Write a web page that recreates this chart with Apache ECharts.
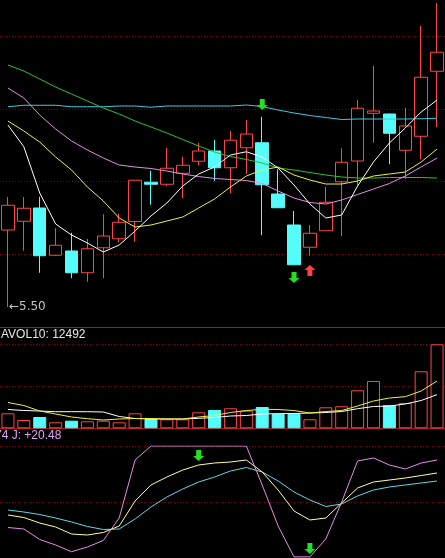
<!DOCTYPE html>
<html>
<head>
<meta charset="utf-8">
<title>K线图</title>
<script src="https://cdn.jsdelivr.net/npm/echarts/dist/echarts.min.js"></script>
<style>
  html, body { margin: 0; padding: 0; background: #000; overflow: hidden; }
  #mychart { width: 445px; height: 558px; }
</style>
</head>
<body>
<div id="mychart"></div>
<script>
  // 日期（图上未标注，仅作类目）
  const days = ['01', '02', '03', '04', '05', '06', '07', '08', '09', '10', '11', '12', '13', '14',
    '15', '16', '17', '18', '19', '20', '21', '22', '23', '24', '25', '26', '27', '28']

  // K线数据
  const openData = [5.808, 5.843, 5.896, 5.707, 5.724, 5.637, 5.737, 5.773, 5.842, 5.999, 5.991, 6.035, 6.083, 6.124,
    6.057, 6.137, 6.157, 5.952, 5.828, 5.739, 5.805, 6.001, 6.084, 6.275, 6.272, 6.127, 6.183, 6.443]
  const closeData = [5.907, 5.895, 5.705, 5.747, 5.637, 5.733, 5.784, 5.839, 6.007, 5.991, 6.055, 6.067, 6.124, 6.057,
    6.167, 6.192, 5.989, 5.897, 5.669, 5.795, 5.919, 6.079, 6.295, 6.284, 6.195, 6.224, 6.419, 6.519]
  const lowData = [5.50, 5.725, 5.637, 5.704, 5.615, 5.601, 5.615, 5.759, 5.761, 5.909, 5.984, 5.935, 6.067, 6.004,
    5.955, 6.032, 5.787, 5.897, 5.669, 5.705, 5.805, 5.784, 5.988, 6.157, 6.071, 6.012, 6.091, 6.219]
  const highData = [5.94, 5.94, 5.941, 5.815, 5.797, 5.773, 5.871, 5.874, 6.008, 6.045, 6.137, 6.101, 6.157, 6.168,
    6.204, 6.248, 6.261, 6.051, 5.884, 5.828, 5.98, 6.135, 6.328, 6.464, 6.274, 6.297, 6.624, 6.715]

  // 均线
  const ma5 = [6.228, 6.141, 5.956, 5.832, 5.788, 5.756, 5.72, 5.748, 5.804, 5.864, 5.916, 5.984, 6.032, 6.06,
    6.108, 6.121, 6.10, 6.056, 5.988, 5.912, 5.856, 5.868, 5.984, 6.08, 6.156, 6.216, 6.28, 6.328]
  const ma10 = [6.244, 6.204, 6.16, 6.10, 6.048, 5.98, 5.924, 5.856, 5.82, 5.828, 5.844, 5.86, 5.896, 5.932,
    5.98, 6.024, 6.048, 6.06, 6.028, 6.008, 5.992, 5.992, 6.004, 6.024, 6.032, 6.04, 6.08, 6.132]
  const ma20 = [6.376, 6.336, 6.268, 6.212, 6.164, 6.128, 6.096, 6.068, 6.06, 6.054, 6.044, 6.032, 6.022, 6.014,
    6.01, 6.006, 5.994, 5.964, 5.936, 5.918, 5.912, 5.928, 5.95, 5.972, 5.994, 6.024, 6.06, 6.096]
  const ma30 = [6.468, 6.444, 6.412, 6.38, 6.352, 6.324, 6.296, 6.272, 6.244, 6.22, 6.196, 6.17, 6.144, 6.12,
    6.102, 6.09, 6.076, 6.056, 6.048, 6.038, 6.028, 6.02, 6.016, 6.016, 6.018, 6.018, 6.018, 6.016]
  const ma60 = [6.301, 6.307, 6.307, 6.307, 6.301, 6.301, 6.301, 6.304, 6.304, 6.299, 6.304, 6.304, 6.304, 6.304,
    6.304, 6.308, 6.302, 6.288, 6.276, 6.266, 6.258, 6.25, 6.252, 6.252, 6.252, 6.252, 6.253, 6.255]

  // 成交量及均量
  const volData = [5571, 3083, 4197, 2228, 2823, 2600, 2823, 2228, 5571, 3454, 3343, 3343, 5942, 6797,
    7428, 6537, 7911, 5422, 5422, 3343, 7799, 8171, 14113, 17567, 8542, 9396, 21170, 31198]
  const mavol5 = [9582, 8468, 6425, 5311, 4197, 3565, 3083, 3454, 3640, 3640, 3454, 3454, 4197, 4754,
    5868, 6611, 7057, 6982, 6611, 5682, 6240, 6611, 8282, 10139, 11253, 11736, 13853, 17567]
  const mavol10 = [6982, 6611, 6425, 6165, 6165, 6165, 6054, 4383, 3640, 3454, 3454, 3454, 3714, 4011,
    4568, 4754, 5311, 5422, 5497, 5682, 5868, 6240, 7279, 8097, 8282, 9025, 10325, 12492]

  // KDJ
  const kData = [38.39, 36.16, 31.25, 27.68, 21.43, 20.54, 22.77, 28.57, 50.89, 65.18, 72.32, 78.57, 83.04, 84.82,
    85.71, 87.5, 76.79, 60.71, 41.96, 33.93, 35.71, 49.11, 62.5, 67.86, 69.64, 71.43, 73.66, 75.89]
  const dData = [42.86, 41.07, 38.84, 35.71, 32.14, 28.13, 25.45, 25.89, 34.82, 45.54, 54.46, 61.61, 67.86, 72.32,
    77.68, 80.8, 76.79, 68.75, 58.93, 51.79, 45.98, 48.21, 55.36, 60.71, 63.39, 65.18, 66.96, 68.75]
  const jData = [27.23, 25.89, 16.52, 11.61, 5.63, 9.82, 15.63, 35.71, 87.5, 100, 100, 100, 100, 100,
    100, 100, 65.18, 28.57, 1, 1, 16.96, 50, 86.61, 89.29, 83.04, 79.46, 84.82, 87.5]

  // 买卖信号 [类目索引, 数值]
  const priceSignalDown = [[16, 6.31], [18, 5.618]]
  const priceSignalUp = [[19, 5.646]]
  const kdjSignalDown = [[12, 91.5], [19, 8.5]]
  const lowMark = [0, 5.50]

  const upColor = '#ff4646' // 阳线
  const downColor = '#54fcfc' // 阴线
  const signalGreen = '#22e022'
  const dotLine = { color: '#8a0000', width: 1, type: [1, 2] }
  const sepLine = { color: '#b01818', width: 1 }

  const arrowDown = 'path://M3,0 L8,0 L8,6 L11,6 L5.5,11 L0,6 L3,6 Z'
  const arrowUp = 'path://M5.5,0 L11,5 L8,5 L8,11 L3,11 L3,5 L0,5 Z'

  const hidden = {
    axisLine: { show: false },
    axisTick: { show: false },
    axisLabel: { show: false },
    splitLine: { show: false },
  }

  function signalPoints(list, symbol, color) {
    return list.map(p => ({
      coord: p,
      symbol: symbol,
      symbolSize: [11, 11],
      itemStyle: { color: color },
      label: { show: false },
    }))
  }

  function lineSeries(data, color, xi, yi) {
    return {
      type: 'line',
      data: data,
      xAxisIndex: xi,
      yAxisIndex: yi,
      showSymbol: false,
      symbol: 'none',
      silent: true,
      lineStyle: { width: 1, color: color },
    }
  }

  const candleData = days.map((d, i) => [openData[i], closeData[i], lowData[i], highData[i]])
  const volBars = volData.map((v, i) => ({
    value: v,
    itemStyle: closeData[i] >= openData[i]
      ? { color: '#000', borderColor: upColor, borderWidth: 1 }
      : { color: downColor, borderColor: downColor, borderWidth: 1 },
  }))

  const option = {
    backgroundColor: '#000',
    animation: false,
    grid: [
      { left: -2, right: -1, top: 0, height: 327 },
      { left: -2, right: -1, top: 344.3, height: 84 },
      { left: -2, right: -1, top: 446, height: 112 },
    ],
    xAxis: [0, 1, 2].map(i => ({
      type: 'category',
      gridIndex: i,
      data: days,
      boundaryGap: true,
      axisTick: { show: false },
      axisLabel: { show: false },
      splitLine: { show: false },
      axisLine: i < 2 ? { show: true, lineStyle: sepLine } : { show: false },
    })),
    yAxis: [
      // 价格
      Object.assign({ type: 'value', gridIndex: 0, min: 5.42, max: 6.728 }, hidden),
      // 主图分隔虚线
      Object.assign({}, hidden, { type: 'value', gridIndex: 0, min: 0, max: 4.5, interval: 1,
        splitLine: { show: true, showMaxLine: false, lineStyle: dotLine } }),
      // 成交量
      Object.assign({}, hidden, { type: 'value', gridIndex: 1, min: 0, max: 31200, interval: 15600,
        splitLine: { show: true, lineStyle: dotLine } }),
      // KDJ
      Object.assign({}, hidden, { type: 'value', gridIndex: 2, min: 0, max: 100, interval: 50,
        splitLine: { show: true, lineStyle: dotLine } }),
    ],
    graphic: [
      { type: 'text', left: 1, top: 329, silent: true,
        style: { text: 'AVOL10: 12492', fill: '#e6e6e6', font: '12px "Liberation Sans", Arial, sans-serif' } },
      { type: 'text', left: -5, top: 430, silent: true,
        style: { text: '74 J: +20.48', fill: '#e0a4f0', font: '12px "Liberation Sans", Arial, sans-serif' } },
    ],
    series: [
      {
        type: 'candlestick',
        xAxisIndex: 0,
        yAxisIndex: 0,
        data: candleData,
        barWidth: 13,
        silent: true,
        itemStyle: {
          color: '#000',
          color0: downColor,
          borderColor: upColor,
          borderColor0: downColor,
          borderWidth: 1,
        },
        markPoint: {
          silent: true,
          data: signalPoints(priceSignalDown, arrowDown, signalGreen)
            .concat(signalPoints(priceSignalUp, arrowUp, '#ff4040'))
            .concat([{
              coord: lowMark,
              symbol: 'circle',
              symbolSize: 0,
              label: {
                show: true,
                position: 'right',
                distance: 1,
                formatter: '←' + lowMark[1].toFixed(2),
                color: '#c4c4c4',
                fontSize: 12,
                fontFamily: '"DejaVu Sans", sans-serif',
              },
            }]),
        },
      },
      lineSeries(ma60, '#40c8e0', 0, 0),
      lineSeries(ma30, '#2cc22c', 0, 0),
      lineSeries(ma20, '#e090e0', 0, 0),
      lineSeries(ma10, '#f0f040', 0, 0),
      lineSeries(ma5, '#ffffff', 0, 0),
      {
        type: 'bar',
        xAxisIndex: 1,
        yAxisIndex: 2,
        data: volBars,
        barWidth: 13,
        silent: true,
      },
      lineSeries(mavol10, '#ffffff', 1, 2),
      lineSeries(mavol5, '#f0f040', 1, 2),
      lineSeries(dData, '#60d8e8', 2, 3),
      lineSeries(kData, '#ffff99', 2, 3),
      Object.assign(lineSeries(jData, '#e090e0', 2, 3), {
        markPoint: { silent: true, data: signalPoints(kdjSignalDown, arrowDown, signalGreen) },
      }),
    ],
  }

  const myChart = echarts.init(document.getElementById('mychart'))
  myChart.setOption(option)
</script>
</body>
</html>
